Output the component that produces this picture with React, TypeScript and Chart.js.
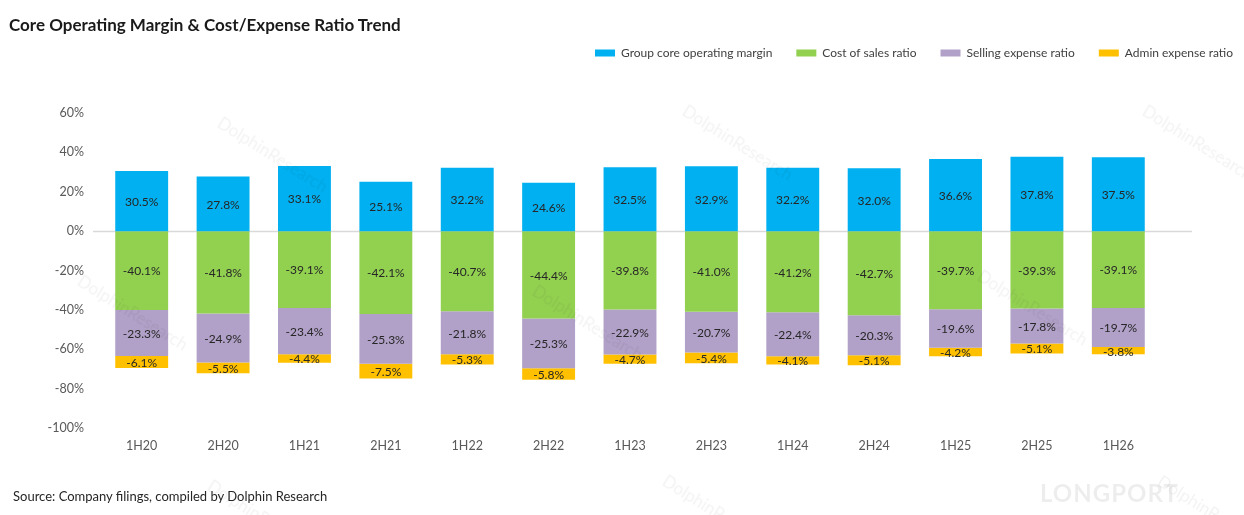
import { Chart, registerables } from "chart.js"
import React, { useEffect, useRef } from "react"

Chart.register(...registerables)

const periods = ["1H20", "2H20", "1H21", "2H21", "1H22", "2H22", "1H23", "2H23", "1H24", "2H24", "1H25", "2H25", "1H26"]
const coreMargin = [30.5, 27.8, 33.1, 25.1, 32.2, 24.6, 32.5, 32.9, 32.2, 32.0, 36.6, 37.8, 37.5]
const costOfSales = [-40.1, -41.8, -39.1, -42.1, -40.7, -44.4, -39.8, -41.0, -41.2, -42.7, -39.7, -39.3, -39.1]
const sellingExpense = [-23.3, -24.9, -23.4, -25.3, -21.8, -25.3, -22.9, -20.7, -22.4, -20.3, -19.6, -17.8, -19.7]
const adminExpense = [-6.1, -5.5, -4.4, -7.5, -5.3, -5.8, -4.7, -5.4, -4.1, -5.1, -4.2, -5.1, -3.8]
const yTickValues = [60, 40, 20, 0, -20, -40, -60, -80, -100]

const FONT = "Lato, 'Open Sans', sans-serif"

// thin grey zero line, a little wider than the bar area like in the source
const zeroLine = {
  id: "zeroLine",
  beforeDatasetsDraw(chart: any) {
    const { ctx, chartArea, scales } = chart
    const y = Math.round(scales.y.getPixelForValue(0)) + 0.5
    ctx.save()
    ctx.strokeStyle = "#d9d9d9"
    ctx.lineWidth = 1.5
    ctx.beginPath()
    ctx.moveTo(chartArea.left - 8, y)
    ctx.lineTo(chartArea.right + 33, y)
    ctx.stroke()
    ctx.restore()
  },
}

// value labels in the middle of each stacked segment
const segmentLabels = {
  id: "segmentLabels",
  afterDatasetsDraw(chart: any) {
    const { ctx } = chart
    ctx.save()
    ctx.font = `12px ${FONT}`
    ctx.fillStyle = "#262626"
    ctx.textAlign = "center"
    ctx.textBaseline = "middle"
    chart.data.datasets.forEach((ds: any, i: number) => {
      const meta = chart.getDatasetMeta(i)
      meta.data.forEach((bar: any, j: number) => {
        const { x, y, base } = bar.getProps(["x", "y", "base"], true)
        ctx.fillText(ds.data[j].toFixed(1) + "%", x, (y + base) / 2 + 1)
      })
    })
    ctx.restore()
  },
}

const watermarks = [
  { x: 225, y: 112 },
  { x: 690, y: 100 },
  { x: 1150, y: 100 },
  { x: 85, y: 270 },
  { x: 540, y: 280 },
  { x: 985, y: 265 },
  { x: 215, y: 475 },
  { x: 670, y: 470 },
  { x: 1165, y: 470 },
]

const CoreMarginChart: React.FC = () => {
  const chartRef = useRef<HTMLCanvasElement>(null)
  const chartInstanceRef = useRef<Chart | null>(null)

  useEffect(() => {
    const ctx = chartRef.current?.getContext("2d")
    if (!ctx) return

    Chart.defaults.font.family = FONT

    chartInstanceRef.current = new Chart(ctx, {
      type: "bar",
      data: {
        labels: periods,
        datasets: [
          { label: "Group core operating margin", data: coreMargin, backgroundColor: "#00B0F0" },
          { label: "Cost of sales ratio", data: costOfSales, backgroundColor: "#92D050" },
          { label: "Selling expense ratio", data: sellingExpense, backgroundColor: "#B1A0C7" },
          { label: "Admin expense ratio", data: adminExpense, backgroundColor: "#FFC000" },
        ],
      },
      options: {
        responsive: true,
        maintainAspectRatio: false,
        animation: false,
        layout: { padding: { top: 23, right: -13, bottom: 0, left: 0 } },
        datasets: { bar: { categoryPercentage: 1, barPercentage: 0.65 } },
        plugins: {
          legend: {
            position: "top",
            align: "end",
            labels: {
              boxWidth: 20,
              boxHeight: 7,
              padding: 24,
              color: "#404040",
              font: { size: 12, family: FONT },
            },
          },
          title: { display: false },
          tooltip: { enabled: false },
        },
        scales: {
          x: {
            stacked: true,
            grid: { display: false },
            border: { display: false },
            ticks: { color: "#595959", font: { size: 12.5, family: FONT }, padding: 2 },
            afterFit: (s: any) => {
              s.height = 87
            },
          },
          x2: {
            position: "top",
            grid: { display: false },
            border: { display: false },
            ticks: { display: false },
            afterFit: (s: any) => {
              s.height = 44
            },
          },
          y: {
            stacked: true,
            min: -100,
            max: 60,
            grid: { display: false },
            border: { display: false },
            ticks: {
              color: "#595959",
              font: { size: 12.5, family: FONT },
              padding: 9,
              callback: (v: any) => v + "%",
            },
            afterBuildTicks: (s: any) => {
              s.ticks = yTickValues.map((v) => ({ value: v }))
            },
            afterFit: (s: any) => {
              s.width = 101
            },
          },
          y2: {
            position: "right",
            grid: { display: false },
            border: { display: false },
            ticks: { display: false },
            afterFit: (s: any) => {
              s.width = 98
            },
          },
        },
      },
      plugins: [zeroLine, segmentLabels],
    })

    return () => {
      chartInstanceRef.current?.destroy()
    }
  }, [])

  return (
    <div style={{ position: "fixed", left: 0, top: 0, width: 1244, height: 515, background: "#fff", fontFamily: FONT }}>
      <canvas ref={chartRef} />
      {watermarks.map((w, i) => (
        <span
          key={i}
          style={{
            position: "absolute",
            left: w.x,
            top: w.y,
            fontSize: 17,
            color: "rgba(0,0,0,0.05)",
            transform: "rotate(32deg)",
            transformOrigin: "left top",
            whiteSpace: "nowrap",
            pointerEvents: "none",
          }}
        >
          DolphinResearch
        </span>
      ))}
      <span
        style={{
          position: "absolute",
          left: 1040,
          top: 478,
          fontSize: 24,
          fontWeight: 700,
          letterSpacing: 1,
          color: "rgba(0,0,0,0.07)",
          pointerEvents: "none",
        }}
      >
        LONGPORT
      </span>
      <div
        style={{
          position: "absolute",
          left: 9,
          top: 15,
          fontSize: 17,
          lineHeight: "20px",
          fontWeight: 700,
          color: "#1a1a1a",
        }}
      >
        Core Operating Margin &amp; Cost/Expense Ratio Trend
      </div>
      <div
        style={{
          position: "absolute",
          left: 13,
          top: 487,
          fontSize: 13,
          lineHeight: "18px",
          color: "#262626",
        }}
      >
        Source: Company filings, compiled by Dolphin Research
      </div>
    </div>
  )
}

export default function App() {
  return <CoreMarginChart />
}
